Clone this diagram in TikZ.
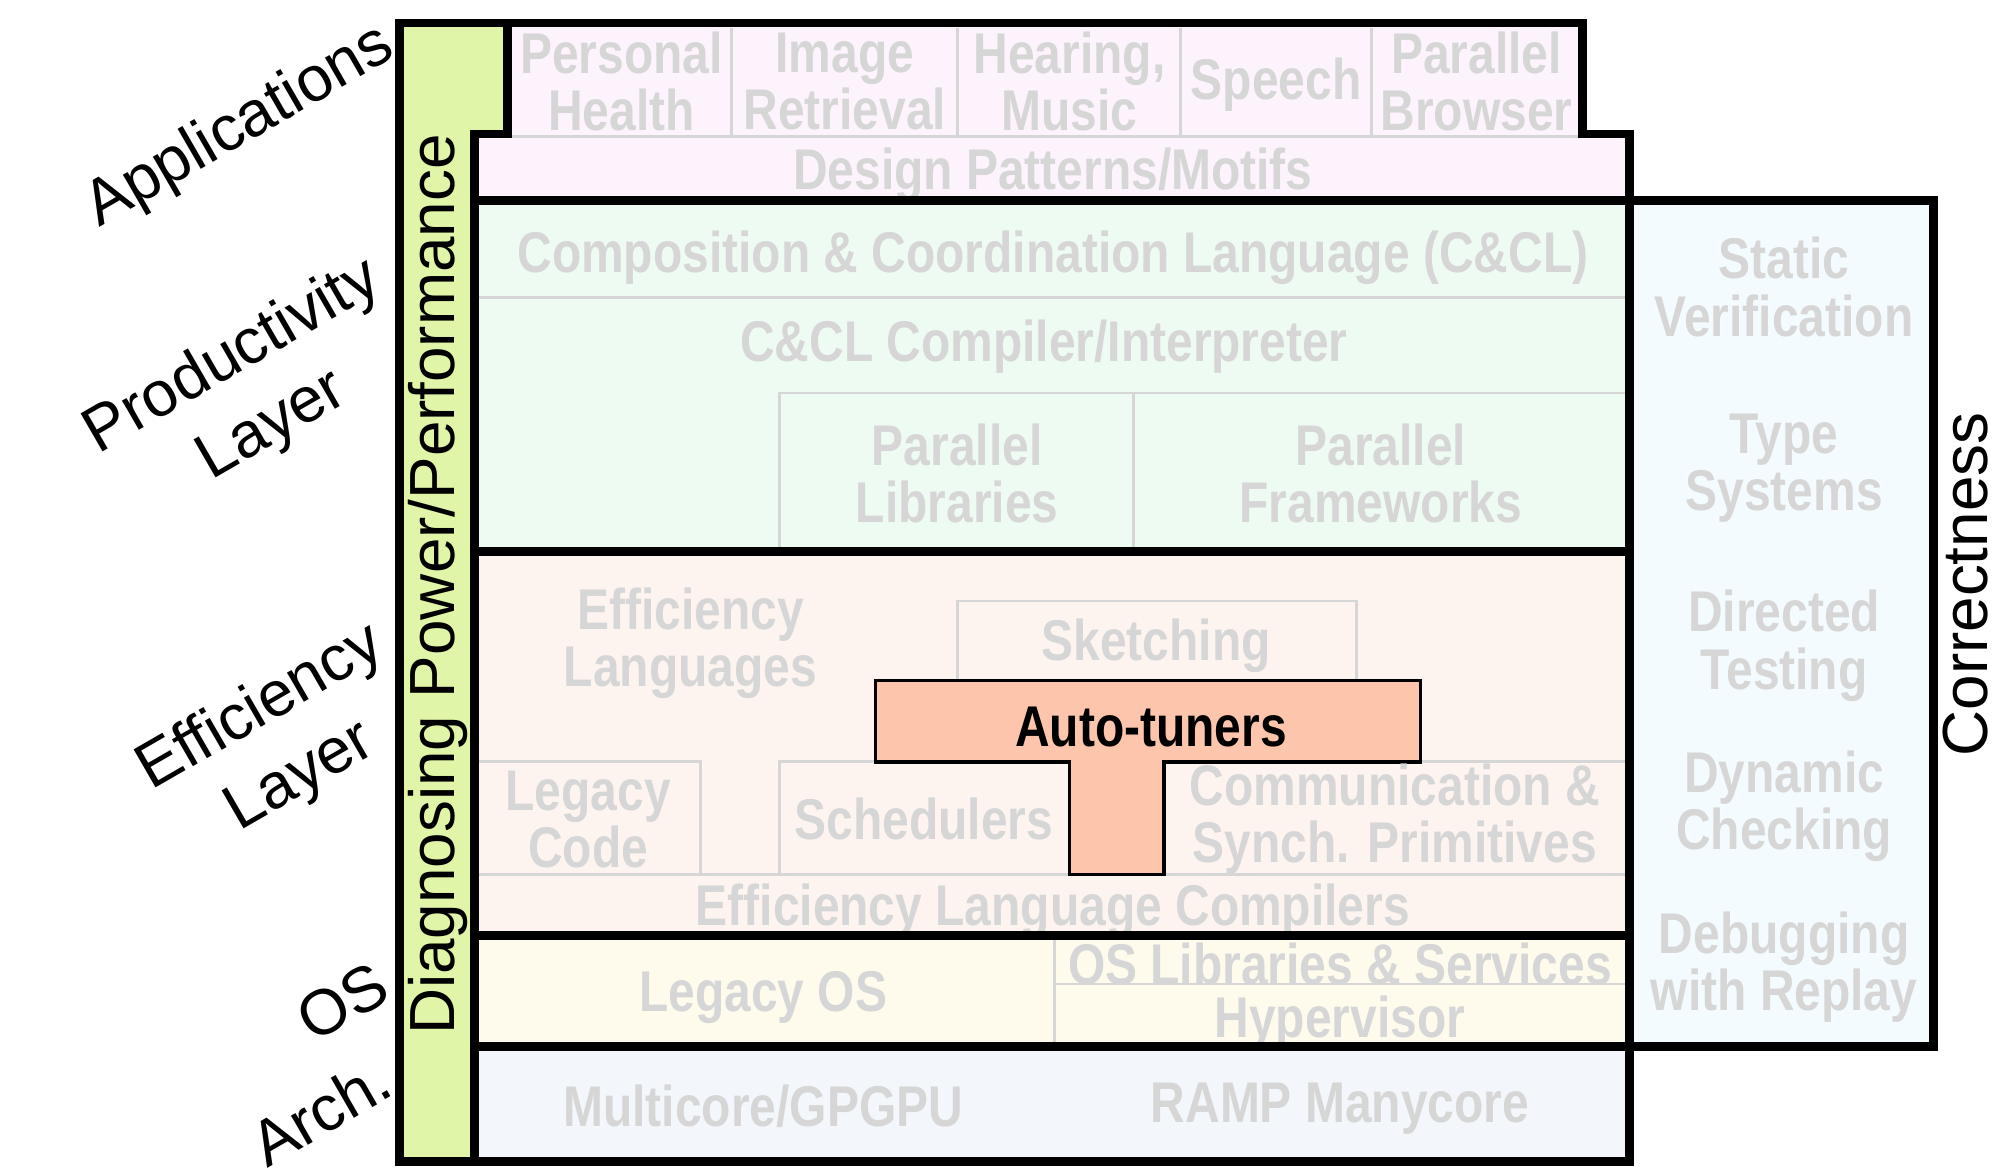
\documentclass[tikz,border=0pt]{standalone}
\usepackage{fontspec}
\setmainfont{Liberation Sans}
\newfontfamily\narrowfont[FakeStretch=0.835]{Liberation Sans}
\definecolor{fadedtext}{RGB}{214,214,214}
\definecolor{appfill}{RGB}{253,243,253}
\definecolor{prodfill}{RGB}{238,251,242}
\definecolor{efffill}{RGB}{253,244,240}
\definecolor{osfill}{RGB}{254,251,236}
\definecolor{archfill}{RGB}{243,247,251}
\definecolor{corrfill}{RGB}{243,251,254}
\definecolor{diagfill}{RGB}{224,245,168}
\definecolor{tunerfill}{RGB}{252,197,172}
\tikzset{
  faded/.style={text=fadedtext, align=center, inner sep=0pt,
    font=\narrowfont\bfseries\fontsize{22.5}{22.5}\selectfont},
  sidelabel/.style={rotate=30, align=center, inner sep=0pt,
    font=\fontsize{25}{31}\selectfont},
  barlabel/.style={rotate=90, inner sep=0pt, font=\fontsize{25}{30}\selectfont},
  heavy/.style={line width=3.5pt},
  faint/.style={draw=fadedtext, line width=1.1pt},
}
\begin{document}
\begin{tikzpicture}[x=0.5pt,y=-0.5pt]
    \useasboundingbox (0,0) rectangle (1568,921);
    %% Layer fills
    \fill[appfill] (398,18) -- (1240,18) -- (1240,105) -- (1277,105) -- (1277,157) -- (372,157) -- (372,105) -- (398,105) -- cycle;
    \fill[prodfill] (372,157) rectangle (1277,432);
    \fill[efffill] (372,432) rectangle (1277,733);
    \fill[osfill] (372,733) rectangle (1277,820);
    \fill[archfill] (372,820) rectangle (1277,910);
    \fill[corrfill] (1277,157) rectangle (1515,820);
    \fill[diagfill] (313,18) -- (398,18) -- (398,105) -- (372,105) -- (372,910) -- (313,910) -- cycle;
    %% Inner cell lines
    \draw[faint] (398,107) -- (1240,107);
    \foreach \x in {573,750,925,1075}
        \draw[faint] (\x,22) -- (\x,107);
    \draw[faint] (372,233) -- (1277,233);
    \draw[faint] (1277,308) -- (611,308) -- (611,432);
    \draw[faint] (888,308) -- (888,432);
    \draw[faint] (750,535) -- (750,471) -- (1063,471) -- (1063,535);
    \draw[faint] (372,597) -- (549,597) -- (549,685);
    \draw[faint] (611,685) -- (611,597) -- (838,597);
    \draw[faint] (912,597) -- (1277,597);
    \draw[faint] (372,685) -- (1277,685);
    \draw[faint] (826,736) -- (826,820);
    \draw[faint] (826,771) -- (1277,771);
    %% Auto-tuners
    \draw[fill=tunerfill, line width=1.3pt] (686,533) -- (1113,533) -- (1113,597) -- (912,597) -- (912,685) -- (838,685) -- (838,597) -- (686,597) -- cycle;
    %% Applications
    \node[faded] (personal) at (487,64) {Personal\\Health};
    \node[faded] (image) at (662,64) {Image\\Retrieval};
    \node[faded] (hearing) at (838,64) {Hearing,\\Music};
    \node[faded] (speech) at (1000,66) {Speech};
    \node[faded] (browser) at (1157,64) {Parallel\\Browser};
    \node[faded] (design) at (825,137) {Design Patterns/Motifs};
    %% Productivity
    \node[faded] (ccl) at (825,202) {Composition \& Coordination Language (C\&CL)};
    \node[faded] (compiler) at (818,272) {C\&CL Compiler/Interpreter};
    \node[faded] (parlib) at (750,371) {Parallel\\Libraries};
    \node[faded] (parfw) at (1082,371) {Parallel\\Frameworks};
    %% Efficiency
    \node[faded] (efflang) at (541,504) {Efficiency\\Languages};
    \node[faded] (sketch) at (906,506) {Sketching};
    \node[faded, text=black] (tuner) at (902,570) {Auto-tuners};
    \node[faded] (legacy) at (461,642) {Legacy\\Code};
    \node[faded] (sched) at (724,642) {Schedulers};
    \node[faded] (comm) at (1093,642) {Communication \&\\Synch. Primitives};
    \node[faded] (effcomp) at (825,714) {Efficiency Language Compilers};
    %% OS and Arch.
    \node[faded] (legacyos) at (598,782) {Legacy OS};
    \node[faded] (oslib) at (1050,755) {OS Libraries \& Services};
    \node[faded] (hyper) at (1050,801) {Hypervisor};
    \node[faded] (multicore) at (598,867) {Multicore/GPGPU};
    \node[faded] (ramp) at (1050,869) {RAMP Manycore};
    %% Correctness
    \node[faded] (static) at (1398,225) {Static\\Verification};
    \node[faded] (types) at (1398,367) {Type\\Systems};
    \node[faded] (directed) at (1398,506) {Directed\\Testing};
    \node[faded] (dynamic) at (1398,632) {Dynamic\\Checking};
    \node[faded] (debug) at (1398,758) {Debugging\\with Replay};
    %% Side labels
    \node[barlabel] (diag) at (343,458) {Diagnosing Power/Performance};
    \node[barlabel] (correct) at (1540,458) {Correctness};
    \node[sidelabel] (apps) at (188,100) {Applications};
    \node[sidelabel] (prod) at (198,307) {Productivity\\Layer};
    \node[sidelabel] (eff) at (220,582) {Efficiency\\Layer};
    \node[sidelabel] (os) at (268,785) {OS};
    \node[sidelabel] (arch) at (251,871) {Arch.};
    %% Heavy outlines
    \draw[heavy] (313,18) -- (1240,18) -- (1240,105) -- (1277,105) -- (1277,910) -- (313,910) -- cycle;
    \draw[heavy] (398,18) -- (398,105) -- (372,105) -- (372,910);
    \draw[heavy] (372,157) -- (1515,157) -- (1515,820) -- (372,820);
    \draw[heavy] (372,432) -- (1277,432);
    \draw[heavy] (372,733) -- (1277,733);
\end{tikzpicture}
\end{document}
